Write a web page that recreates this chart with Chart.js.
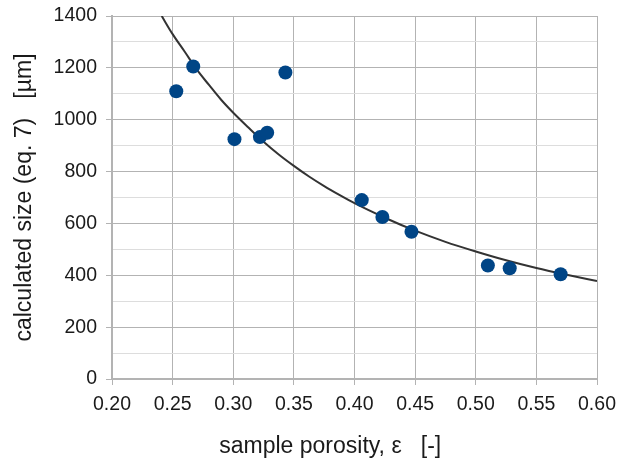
<!DOCTYPE html>
<html><head><meta charset="utf-8">
<script src="https://cdn.jsdelivr.net/npm/chart.js@4/dist/chart.umd.min.js"></script>
<style>html,body{margin:0;padding:0;background:#fff}#wrap{width:618px;height:461px}</style>
</head><body><div id="wrap"><canvas id="c" width="618" height="461"></canvas></div>
<script>
// measured sample data
const porosity = [0.253, 0.267, 0.301, 0.322, 0.328, 0.343, 0.406, 0.423, 0.447, 0.510, 0.528, 0.570];
const sizeUm   = [1110, 1205, 925, 933, 950, 1182, 690, 625, 568, 438, 427, 404];
// fitted curve
const fitPorosity = [0.241, 0.25, 0.26, 0.27, 0.28, 0.29, 0.30, 0.3125, 0.325, 0.3375, 0.35, 0.3625, 0.375, 0.3875, 0.40, 0.425, 0.45, 0.475, 0.50, 0.525, 0.55, 0.575, 0.60];
const fitSize     = [1400, 1330, 1262, 1193, 1134, 1077, 1027, 970, 915, 866, 822, 781, 744, 710, 678, 622, 572, 529, 492, 458, 428, 402, 378];
const xMin = 0.20, xMax = 0.60, xStep = 0.05;
const yMin = 0, yMax = 1400, yMinorStep = 100, yMajorStep = 200;
const xTitle = 'sample porosity, ε   [-]';
const yTitle = 'calculated size (eq. 7)   [µm]';

const FONT = "'Liberation Sans', Arial, sans-serif";
const TXT = '#1a1a1a';

// x-axis title drawn slightly left of the plot centre, as in the original
const xTitlePlugin = {
  id: 'xTitle',
  afterDraw(chart) {
    const {ctx, chartArea} = chart;
    ctx.save();
    ctx.font = "23px " + FONT;
    ctx.fillStyle = TXT;
    ctx.textAlign = 'center';
    ctx.textBaseline = 'middle';
    const cx = chartArea.left + (chartArea.right - chartArea.left) * 0.45;
    ctx.fillText(xTitle, cx, chart.height - 14);
    ctx.restore();
  }
};

new Chart(document.getElementById('c'), {
  type: 'scatter',
  data: {
    datasets: [
      {
        label: 'data',
        data: porosity.map((x, i) => ({x, y: sizeUm[i]})),
        backgroundColor: '#004586',
        borderColor: '#004586',
        pointRadius: 7,
        pointHoverRadius: 7,
        borderWidth: 0,
        order: 1
      },
      {
        label: 'fit',
        data: fitPorosity.map((x, i) => ({x, y: fitSize[i]})),
        showLine: true,
        borderColor: '#333333',
        borderWidth: 2,
        pointRadius: 0,
        cubicInterpolationMode: 'monotone',
        fill: false,
        order: 2
      }
    ]
  },
  plugins: [xTitlePlugin],
  options: {
    responsive: false,
    animation: false,
    devicePixelRatio: 1,
    layout: { padding: { left: 0, right: 21, top: 16, bottom: 0 } },
    plugins: { legend: { display: false }, tooltip: { enabled: false } },
    scales: {
      x: {
        type: 'linear', min: xMin, max: xMax,
        afterFit: s => { s.height = 461 - 379; s.paddingLeft = 0; s.paddingRight = 0; },
        ticks: { stepSize: xStep, color: TXT, font: { family: FONT, size: 19.5 }, padding: 8,
                 callback: v => Number(v).toFixed(2) },
        grid: { color: '#b3b3b3', tickColor: '#b3b3b3', tickLength: 6, lineWidth: 1 },
        border: { color: '#b3b3b3', width: 2 },
        title: { display: false }
      },
      y: {
        type: 'linear', min: yMin, max: yMax,
        afterFit: s => { s.width = 112; s.paddingTop = 0; s.paddingBottom = 0; },
        ticks: { stepSize: yMinorStep, color: TXT, font: { family: FONT, size: 19.5 }, padding: 9,
                 autoSkip: false,
                 callback: v => (v % yMajorStep === 0 ? String(v) : '') },
        grid: {
          color: c => (c.tick && c.tick.value % yMajorStep === 0 ? '#b3b3b3' : '#dddddd'),
          tickColor: c => (c.tick && c.tick.value % yMajorStep === 0 ? '#b3b3b3' : 'rgba(0,0,0,0)'),
          tickLength: 6, lineWidth: 1
        },
        border: { color: '#b3b3b3', width: 2 },
        title: { display: true, text: yTitle, color: TXT,
                 font: { family: FONT, size: 23 }, padding: { top: 11, bottom: 0 } }
      }
    }
  }
});
</script></body></html>
